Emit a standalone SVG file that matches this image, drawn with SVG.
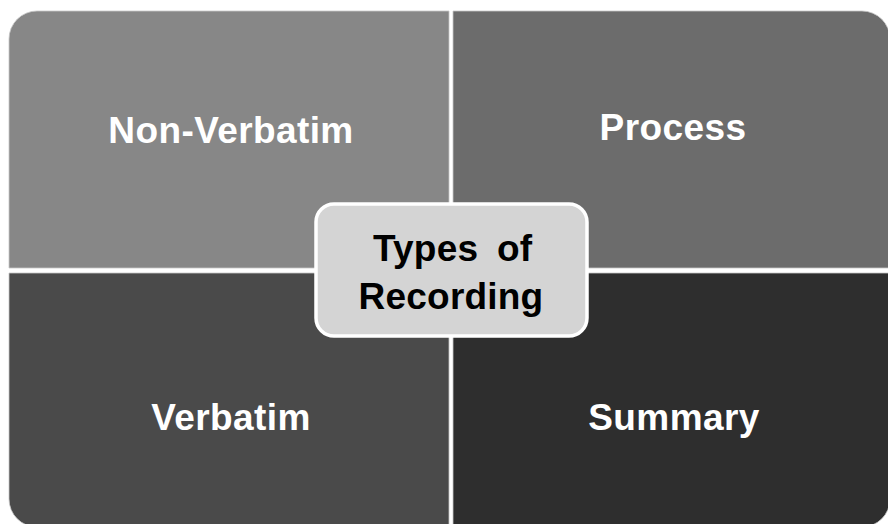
<svg xmlns="http://www.w3.org/2000/svg" width="888" height="524" viewBox="0 0 888 524">
<style>
.q{stroke:#c8c8c8;stroke-width:0.8}
.lbl{font-family:"Liberation Sans",Arial,sans-serif;font-weight:bold;font-size:37px;letter-spacing:0.4px;fill:#ffffff;text-anchor:middle}
.ctr{font-family:"Liberation Sans",Arial,sans-serif;font-weight:bold;font-size:37px;letter-spacing:0.2px;fill:#000000}
</style>
<rect width="888" height="524" fill="#ffffff"/>
<g id="non-verbatim">
<path class="q" d="M9,268 V39 A28,28 0 0 1 37,11 H449 V268 Z" fill="#878787"/>
<text class="lbl" x="231" y="143">Non-Verbatim</text>
</g>
<g id="process">
<path class="q" d="M453,11 H862 A28,28 0 0 1 890,39 V268 H453 Z" fill="#6c6c6c"/>
<text class="lbl" x="673" y="140">Process</text>
</g>
<g id="verbatim">
<path class="q" d="M9,273 V499 A28,28 0 0 0 37,527 H449 V273 Z" fill="#4a4a4a"/>
<text class="lbl" x="231" y="430">Verbatim</text>
</g>
<g id="summary">
<path class="q" d="M453,273 H890 V499 A28,28 0 0 1 862,527 H453 Z" fill="#2e2e2e"/>
<text class="lbl" x="674" y="430">Summary</text>
</g>
<g id="connectors"></g>
<g id="center">
<rect x="316" y="204" width="271" height="132" rx="18" fill="#d4d4d4" stroke="#ffffff" stroke-width="3.5"/>
<text class="ctr" y="261"><tspan x="373">Types</tspan><tspan x="497">of</tspan></text>
<text class="ctr" x="451" y="309" text-anchor="middle">Recording</text>
</g>
</svg>
